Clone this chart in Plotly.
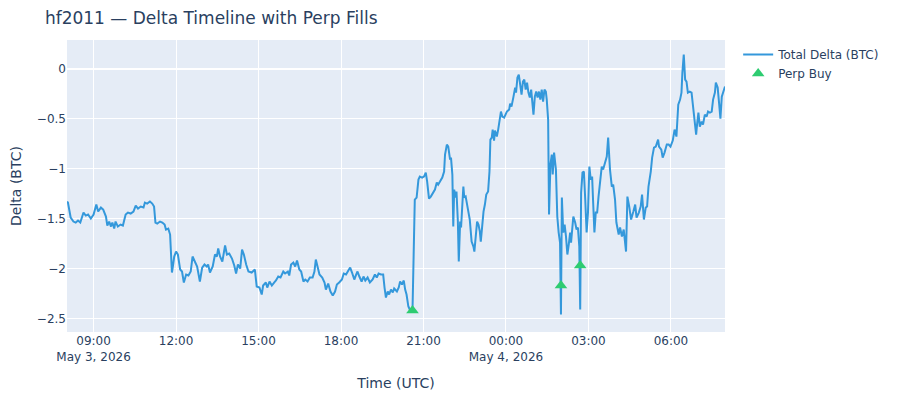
import pandas as pd
import plotly.graph_objs as go

start = pd.Timestamp("2026-05-03 08:00")

# minutes since start, total delta in BTC
delta_min = [
    2, 4, 10, 16, 21, 26, 31, 38, 43, 48, 54, 60, 66, 70, 76, 81, 87, 90, 94, 98,
    101, 105, 108, 113, 119, 124, 130, 135, 141, 147, 152, 157, 163, 169, 172, 177, 183, 188, 192, 195,
    199, 205, 210, 215, 218, 223, 227, 230, 231, 233, 236, 240, 244, 249, 253, 257, 262, 267, 272, 276,
    281, 286, 292, 297, 302, 307, 310, 314, 320, 325, 329, 332, 336, 341, 347, 351, 356, 362, 367, 371,
    375, 380, 384, 388, 393, 398, 405, 412, 416, 422, 427, 430, 436, 439, 444, 449, 454, 458, 463, 468,
    474, 478, 484, 487, 491, 496, 500, 504, 509, 513, 518, 522, 527, 532, 538, 542, 545, 549, 553, 559,
    564, 567, 572, 577, 582, 587, 591, 596, 602, 606, 611, 616, 620, 624, 629, 633, 636, 640, 645, 649,
    653, 658, 663, 669, 674, 678, 682, 687, 692, 695, 698, 702, 705, 709, 713, 716, 722, 726, 729, 733,
    737, 740, 743, 747, 751, 756, 758, 761, 765, 769, 772, 777, 781, 785, 788, 792, 796, 801, 805, 809,
    812, 816, 821, 825, 827, 831, 834, 838, 840, 843, 845, 847, 850, 852, 855, 857, 860, 862, 865, 867,
    869, 872, 874, 878, 881, 885, 889, 891, 894, 897, 900, 903, 905, 908, 911, 914, 917, 921, 924, 926,
    929, 931, 934, 936, 940, 943, 947, 949, 952, 956, 962, 967, 969, 972, 976, 980, 982, 985, 988, 991,
    994, 997, 1000, 1003, 1006, 1009, 1012, 1015, 1017, 1020, 1023, 1026, 1029, 1032, 1035, 1038, 1041, 1044, 1047, 1049,
    1052, 1054, 1057, 1060, 1062, 1065, 1069, 1072, 1075, 1078, 1080, 1082, 1085, 1088, 1091, 1094, 1097, 1100, 1102, 1107,
    1111, 1114, 1117, 1120, 1122, 1124, 1127, 1130, 1133, 1136, 1139, 1142, 1145, 1148, 1150, 1153, 1156, 1159, 1162, 1165,
    1169, 1172, 1177, 1180, 1183, 1187, 1191, 1194, 1198, 1201, 1206, 1209, 1213, 1217, 1222, 1225, 1229, 1233, 1238, 1242,
    1245, 1250, 1254, 1257, 1261, 1265, 1268, 1271, 1276, 1279, 1283, 1287, 1292, 1294, 1299, 1302, 1306, 1311, 1315, 1319,
    1324, 1328, 1332, 1336, 1340, 1343, 1345, 1348, 1351, 1354, 1357, 1361, 1365, 1369, 1372, 1375, 1377, 1380, 1383, 1387,
    1390, 1394, 1398, 1401, 1405, 1409, 1412, 1416, 1418, 1422, 1425, 1428, 1431, 1436, 1438,
]
delta_btc = [
    -1.33, -1.34, -1.49, -1.53, -1.54, -1.52, -1.54, -1.44, -1.47, -1.46, -1.50, -1.46, -1.36, -1.43, -1.39, -1.41, -1.48, -1.57, -1.53, -1.58,
    -1.54, -1.60, -1.53, -1.58, -1.56, -1.57, -1.46, -1.44, -1.45, -1.43, -1.37, -1.40, -1.38, -1.39, -1.34, -1.35, -1.33, -1.35, -1.38, -1.54,
    -1.55, -1.53, -1.54, -1.56, -1.61, -1.60, -1.66, -1.88, -2.04, -1.98, -1.88, -1.83, -1.86, -2.01, -2.03, -2.14, -2.06, -2.07, -2.03, -1.88,
    -1.94, -1.98, -2.13, -1.99, -1.96, -1.98, -1.96, -2.04, -1.98, -1.86, -1.88, -1.80, -1.88, -1.93, -1.77, -1.86, -1.85, -1.90, -1.97, -2.05,
    -1.96, -2.00, -1.81, -1.86, -1.96, -2.03, -2.04, -2.01, -2.18, -2.19, -2.26, -2.17, -2.14, -2.19, -2.13, -2.17, -2.14, -2.12, -2.08, -2.09,
    -2.03, -2.05, -2.03, -2.07, -1.96, -1.94, -1.98, -1.92, -2.01, -2.03, -2.13, -2.11, -2.13, -2.09, -2.09, -2.03, -1.91, -1.98, -2.06, -2.09,
    -2.14, -2.21, -2.15, -2.23, -2.27, -2.23, -2.16, -2.14, -2.11, -2.05, -2.06, -2.02, -1.99, -2.04, -2.11, -2.06, -2.03, -2.08, -2.13, -2.08,
    -2.12, -2.09, -2.14, -2.11, -2.06, -2.09, -2.05, -2.06, -2.06, -2.19, -2.29, -2.23, -2.26, -2.21, -2.24, -2.20, -2.23, -2.19, -2.13, -2.16,
    -2.12, -2.21, -2.26, -2.38, -2.42, -2.42, -1.78, -1.31, -1.29, -1.11, -1.08, -1.09, -1.08, -1.04, -1.13, -1.30, -1.28, -1.24, -1.21, -1.14,
    -1.16, -1.13, -1.09, -1.03, -0.86, -0.76, -0.78, -0.91, -0.89, -1.06, -1.58, -1.21, -1.29, -1.23, -1.53, -1.93, -1.53, -1.59, -1.39, -1.18,
    -1.29, -1.28, -1.33, -1.43, -1.51, -1.73, -1.78, -1.83, -1.69, -1.53, -1.56, -1.63, -1.73, -1.54, -1.43, -1.36, -1.26, -1.23, -1.03, -0.71,
    -0.69, -0.61, -0.72, -0.62, -0.68, -0.61, -0.51, -0.43, -0.48, -0.49, -0.43, -0.41, -0.35, -0.38, -0.29, -0.19, -0.24, -0.09, -0.06, -0.16,
    -0.26, -0.13, -0.11, -0.21, -0.14, -0.24, -0.29, -0.21, -0.33, -0.46, -0.28, -0.23, -0.29, -0.23, -0.31, -0.21, -0.33, -0.21, -0.23, -0.31,
    -0.51, -1.46, -0.96, -0.86, -1.06, -0.84, -1.01, -1.48, -1.64, -1.74, -2.46, -1.29, -1.64, -1.56, -1.68, -1.86, -1.76, -1.64, -1.74, -1.48,
    -1.54, -1.61, -1.59, -1.78, -2.41, -1.24, -1.04, -1.03, -1.31, -1.64, -1.44, -0.98, -1.11, -1.08, -1.31, -1.64, -1.44, -1.44, -1.28, -1.14,
    -0.98, -1.01, -0.91, -0.88, -0.69, -1.01, -1.18, -1.16, -1.31, -1.54, -1.66, -1.59, -1.68, -1.61, -1.83, -1.28, -1.38, -1.51, -1.43, -1.36,
    -1.49, -1.44, -1.38, -1.26, -1.51, -1.39, -1.38, -1.18, -1.03, -0.89, -0.79, -0.78, -0.71, -0.78, -0.81, -0.89, -0.84, -0.76, -0.76, -0.78,
    -0.72, -0.61, -0.68, -0.36, -0.31, -0.24, -0.04, 0.14, -0.11, -0.13, -0.24, -0.23, -0.24, -0.39, -0.51, -0.66, -0.56, -0.44, -0.58, -0.53,
    -0.56, -0.46, -0.48, -0.43, -0.44, -0.43, -0.31, -0.24, -0.14, -0.19, -0.34, -0.50, -0.28, -0.19, -0.18,
]

# perp buy fills
fill_min = [756, 1080, 1122]
fill_delta = [-2.42, -2.17, -1.97]

delta_time = start + pd.to_timedelta(delta_min, unit="min")
fill_time = start + pd.to_timedelta(fill_min, unit="min")

fig = go.Figure()
fig.add_trace(go.Scatter(x=delta_time, y=delta_btc, mode='lines', name='Total Delta (BTC)',
                         line=dict(color='#3498db', width=2)))
fig.add_trace(go.Scatter(x=fill_time, y=fill_delta, mode='markers', name='Perp Buy',
                         marker=dict(symbol='triangle-up', size=11, color='#2ecc71')))

# the page sits 8px in from the window corner, so margins are trimmed to match
fig.update_layout(
    title=dict(text='hf2011 — Delta Timeline with Perp Fills', x=0.041),
    font=dict(family='DejaVu Sans'),
    width=900, height=400,
    margin=dict(l=59, r=183, t=32, b=76),
    showlegend=True,
)
fig.update_xaxes(title_text='Time (UTC)')
fig.update_yaxes(title=dict(text='Delta (BTC)', standoff=12), automargin=False)

fig.write_html("out.html")
